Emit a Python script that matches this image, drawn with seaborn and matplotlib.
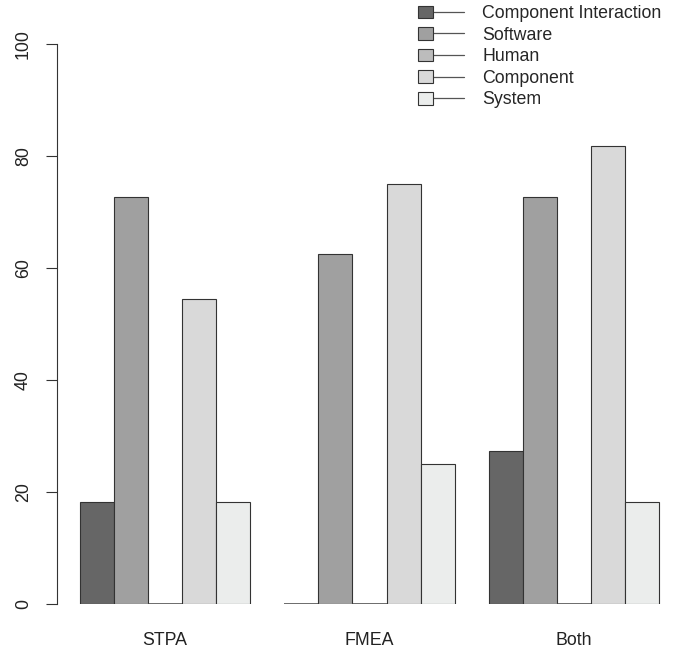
import matplotlib
matplotlib.use("Agg")
import matplotlib.pyplot as plt
import seaborn as sns
import numpy as np
import pandas as pd
from matplotlib.legend_handler import HandlerBase
from matplotlib.patches import Rectangle, Patch
from matplotlib.lines import Line2D

methods = ["STPA", "FMEA", "Both"]
categories = ["Component Interaction", "Software", "Human", "Component", "System"]
comp_interaction = [18.2, 0.0, 27.3]
software = [72.7, 62.5, 72.7]
human = [0.0, 0.0, 0.0]
component = [54.5, 75.0, 81.8]
system = [18.2, 25.0, 18.2]
colors = ["#666666", "#a0a0a0", "#bcbcbc", "#d9d9d9", "#ebedec"]

series = [comp_interaction, software, human, component, system]
rows = []
for cat, vals in zip(categories, series):
    for m, v in zip(methods, vals):
        rows.append({"method": m, "category": cat, "value": v})
df = pd.DataFrame(rows)

sns.set_style("ticks")
plt.rcParams["font.family"] = ["Liberation Sans", "DejaVu Sans"]
fs = 12.8
plt.rcParams["font.size"] = fs

fig = plt.figure(figsize=(6.78, 6.5), dpi=100)
ax = fig.add_axes([57 / 678, 46 / 650, (670 - 57) / 678, 560 / 650])

sns.barplot(data=df, x="method", y="value", hue="category", order=methods,
            hue_order=categories, palette=colors, width=5 / 6, errorbar=None,
            edgecolor="#333333", linewidth=0.8, saturation=1, ax=ax, legend=False)

# zero-height bars collapse to a line at the baseline; keep it visible
for p in ax.patches:
    if p.get_height() == 0:
        p.set_linewidth(1.1)
        p.set_edgecolor("#444444")

ax.set_xlim(-0.528, 2.469)
ax.set_ylim(0, 100)
ax.set_yticks([0, 20, 40, 60, 80, 100])
ax.set_xlabel("")
ax.set_ylabel("")
for s in ["top", "right", "bottom"]:
    ax.spines[s].set_visible(False)
ax.spines["left"].set_color("#333333")
ax.spines["left"].set_linewidth(0.8)
ax.tick_params(axis="y", length=8, width=0.8, color="#333333", pad=10,
               labelsize=fs, labelcolor="#222222")
for lab in ax.get_yticklabels():
    lab.set_rotation(90)
    lab.set_va("center")
ax.tick_params(axis="x", length=0, pad=20, labelsize=fs, labelcolor="#222222")


class BoxLine(HandlerBase):
    def create_artists(self, legend, orig, xd, yd, w, h, fontsize, trans):
        bw, bh = 10.5, 9.0
        y0 = -yd + h / 2
        line = Line2D([-xd + bw, -xd + w], [y0, y0], color="#555555", lw=0.9,
                      transform=trans)
        box = Rectangle((-xd, y0 - bh / 2), bw, bh, facecolor=orig.get_facecolor(),
                        edgecolor="#333333", lw=0.8, transform=trans)
        return [line, box]


handles = [Patch(facecolor=c, edgecolor="#333333") for c in colors]
fig.legend(handles, categories, handler_map={Patch: BoxLine()},
           loc="upper left", bbox_to_anchor=(418 / 678, 1 - 5 / 650), frameon=False,
           fontsize=fs, handlelength=2.6, handletextpad=1.0, labelspacing=0.26,
           borderpad=0, borderaxespad=0)

fig.savefig("out.png", dpi=100)
